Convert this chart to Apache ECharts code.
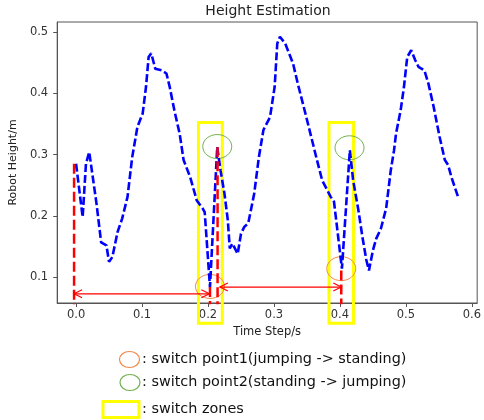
<!DOCTYPE html>
<html>
<head>
<meta charset="utf-8">
<title>Height Estimation</title>
<script src="https://cdn.jsdelivr.net/npm/echarts@6/dist/echarts.min.js"></script>
<style>
    html, body {margin: 0; padding: 0; background: #fff;}
    #main {width: 484px; height: 420px;}
</style>
</head>
<body>
<div id="main"></div>
<script>
// estimated robot height over time
var timeSteps = [0.000, 0.010, 0.015, 0.020, 0.031, 0.038, 0.046, 0.050, 0.055, 0.063,
    0.070, 0.078, 0.085, 0.093, 0.101, 0.106, 0.110, 0.114, 0.120, 0.130,
    0.137, 0.142, 0.149, 0.157, 0.163, 0.173, 0.183, 0.192, 0.195, 0.203,
    0.214, 0.219, 0.225, 0.230, 0.233, 0.237, 0.245, 0.250, 0.255, 0.261,
    0.270, 0.277, 0.284, 0.294, 0.301, 0.305, 0.309, 0.317, 0.329, 0.336,
    0.349, 0.364, 0.373, 0.386, 0.391, 0.403, 0.415, 0.420, 0.428, 0.434,
    0.440, 0.444, 0.450, 0.455, 0.462, 0.470, 0.477, 0.482, 0.485, 0.492,
    0.497, 0.502, 0.508, 0.514, 0.519, 0.528, 0.534, 0.542, 0.551, 0.559,
    0.564, 0.569, 0.579];
var heights = [0.285, 0.198, 0.285, 0.304, 0.220, 0.157, 0.152, 0.125, 0.133, 0.174,
    0.196, 0.231, 0.295, 0.345, 0.367, 0.410, 0.459, 0.465, 0.440, 0.437,
    0.432, 0.410, 0.372, 0.334, 0.291, 0.263, 0.225, 0.212, 0.206, 0.084,
    0.312, 0.274, 0.236, 0.193, 0.147, 0.155, 0.138, 0.171, 0.182, 0.188,
    0.236, 0.295, 0.340, 0.361, 0.410, 0.481, 0.492, 0.481, 0.448, 0.416,
    0.361, 0.296, 0.258, 0.231, 0.223, 0.114, 0.307, 0.258, 0.209, 0.166,
    0.128, 0.111, 0.144, 0.163, 0.179, 0.212, 0.274, 0.307, 0.334, 0.372,
    0.410, 0.459, 0.470, 0.454, 0.443, 0.437, 0.416, 0.378, 0.329, 0.291,
    0.283, 0.263, 0.231];

// switch points: orange = jumping -> standing, green = standing -> jumping
var standPoints = [[0.203, 0.085], [0.402, 0.114]];
var jumpPoints = [[0.214, 0.313], [0.4145, 0.311]];
// red dashed drop lines [x, top]
var dropLines = [[-0.003, 0.285], [0.203, 0.084], [0.2145, 0.312], [0.402, 0.111]];
// double arrows [x start, x end, y]
var arrows = [[-0.003, 0.202, 0.073], [0.218, 0.402, 0.084]];
// switch zones [x left, x right, y top, y bottom]
var zones = [[0.1855, 0.2217, 0.352, 0.025], [0.3834, 0.4205, 0.352, 0.025]];

var xTicks = [0, 0.1, 0.2, 0.3, 0.4, 0.5, 0.6];
var yTicks = [0.1, 0.2, 0.3, 0.4, 0.5];

var FONT = 'DejaVu Sans';
var chart = echarts.init(document.getElementById('main'));

var curve = timeSteps.map(function (t, i) { return [t, heights[i]]; });

var dropSeries = dropLines.map(function (d) {
    return {
        type: 'line',
        data: [[d[0], d[1]], [d[0], 0.0]],
        symbol: 'none',
        z: 4,
        silent: true,
        lineStyle: {color: '#ff0000', width: 2.5, type: [10, 4]}
    };
});

function ellipseSeries(points, color) {
    return {
        type: 'custom',
        data: points,
        z: 1,
        silent: true,
        renderItem: function (params, api) {
            var c = api.coord([api.value(0), api.value(1)]);
            return {
                type: 'ellipse',
                shape: {cx: c[0], cy: c[1], rx: 14.5, ry: 12},
                style: {fill: 'none', stroke: color, lineWidth: 1}
            };
        }
    };
}

var legendFont = '14.4px "DejaVu Sans"';

var option = {
    animation: false,
    backgroundColor: '#ffffff',
    title: {
        text: 'Height Estimation',
        left: 268,
        top: 4,
        padding: 0,
        textAlign: 'center',
        textStyle: {fontFamily: FONT, fontSize: 14, fontWeight: 'normal', color: '#222'}
    },
    grid: {
        left: 54, right: 1, top: 22, bottom: 117,
        show: true, borderColor: '#555', borderWidth: 1,
        containLabel: false
    },
    xAxis: {
        type: 'value',
        min: -0.0286, max: 0.608,
        name: 'Time Step/s',
        nameLocation: 'middle',
        nameGap: 22,
        nameTextStyle: {fontFamily: FONT, fontSize: 11.5, color: '#222'},
        axisLine: {show: true, onZero: false, lineStyle: {color: '#555'}},
        axisTick: {show: true, length: 4, customValues: xTicks, lineStyle: {color: '#555'}},
        axisLabel: {
            customValues: xTicks, margin: 6,
            fontFamily: FONT, fontSize: 11.5, color: '#333',
            formatter: function (v) { return v.toFixed(1); }
        },
        splitLine: {show: false}
    },
    yAxis: {
        type: 'value',
        min: 0.058, max: 0.516,
        name: 'Robot Height/m',
        nameLocation: 'middle',
        nameGap: 35,
        nameTextStyle: {fontFamily: FONT, fontSize: 11, color: '#222'},
        axisLine: {show: true, onZero: false, lineStyle: {color: '#555'}},
        axisTick: {show: true, length: 4, customValues: yTicks, lineStyle: {color: '#555'}},
        axisLabel: {
            customValues: yTicks, margin: 9,
            fontFamily: FONT, fontSize: 11.5, color: '#333',
            formatter: function (v) { return v.toFixed(1); }
        },
        splitLine: {show: false}
    },
    series: [
        {
            type: 'custom',
            data: zones,
            z: 1,
            silent: true,
            renderItem: function (params, api) {
                var p0 = api.coord([api.value(0), api.value(2)]);
                var p1 = api.coord([api.value(1), api.value(3)]);
                return {
                    type: 'rect',
                    shape: {x: p0[0], y: p0[1], width: p1[0] - p0[0], height: p1[1] - p0[1]},
                    style: {fill: 'none', stroke: '#ffff00', lineWidth: 3}
                };
            }
        },
        ellipseSeries(standPoints, '#f0884a'),
        ellipseSeries(jumpPoints, '#72b04e'),
        {
            type: 'line',
            data: curve,
            symbol: 'none',
            z: 3,
            silent: true,
            lineStyle: {color: '#0000ff', width: 2.6, type: [8, 3]}
        }
    ].concat(dropSeries).concat([
        {
            type: 'custom',
            data: arrows,
            z: 5,
            silent: true,
            renderItem: function (params, api) {
                var a = api.coord([api.value(0), api.value(2)]);
                var b = api.coord([api.value(1), api.value(2)]);
                var st = {stroke: '#ff0000', lineWidth: 1.2, fill: 'none'};
                var h = 8, w = 4;
                return {
                    type: 'group',
                    children: [
                        {type: 'line', shape: {x1: a[0], y1: a[1], x2: b[0], y2: b[1]}, style: st},
                        {type: 'polyline', shape: {points: [[a[0] + h, a[1] - w], [a[0], a[1]], [a[0] + h, a[1] + w]]}, style: st},
                        {type: 'polyline', shape: {points: [[b[0] - h, b[1] - w], [b[0], b[1]], [b[0] - h, b[1] + w]]}, style: st}
                    ]
                };
            }
        }
    ]),
    graphic: [
        {type: 'ellipse', shape: {cx: 129.5, cy: 359.5, rx: 10, ry: 8}, style: {fill: 'none', stroke: '#f0884a', lineWidth: 1.2}},
        {type: 'text', x: 142, y: 359.5, style: {text: ': switch point1(jumping -> standing)', font: legendFont, fill: '#111', verticalAlign: 'middle'}},
        {type: 'ellipse', shape: {cx: 130, cy: 382.5, rx: 10, ry: 8}, style: {fill: 'none', stroke: '#72b04e', lineWidth: 1.2}},
        {type: 'text', x: 142, y: 382.5, style: {text: ': switch point2(standing -> jumping)', font: legendFont, fill: '#111', verticalAlign: 'middle'}},
        {type: 'rect', shape: {x: 103, y: 401.5, width: 36, height: 16}, style: {fill: 'none', stroke: '#ffff00', lineWidth: 3}},
        {type: 'text', x: 142, y: 409.5, style: {text: ': switch zones', font: legendFont, fill: '#111', verticalAlign: 'middle'}}
    ]
};

chart.setOption(option);
</script>
</body>
</html>
